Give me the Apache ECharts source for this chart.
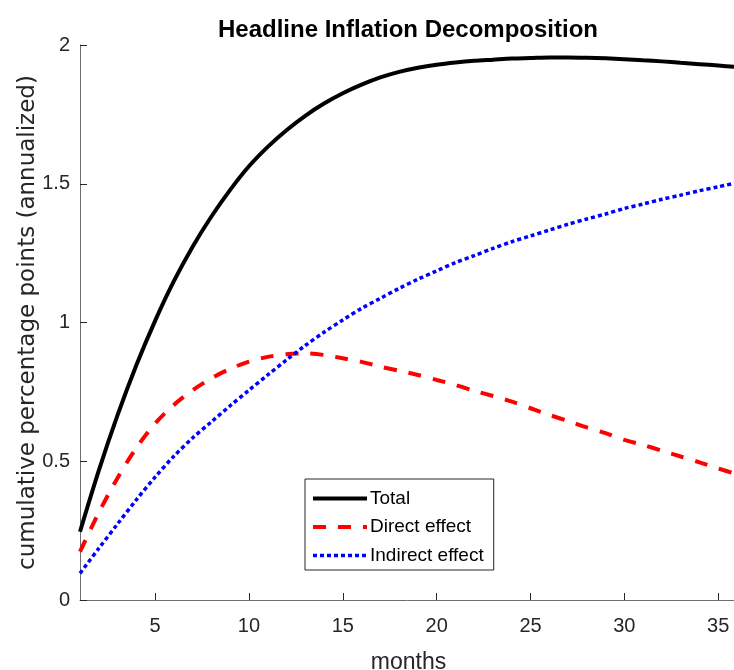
<!DOCTYPE html>
<html>
<head>
<meta charset="utf-8">
<script src="https://cdn.jsdelivr.net/npm/echarts@6/dist/echarts.min.js"></script>
<style>
  html, body { margin: 0; padding: 0; background: #fff; }
  #chart { width: 734px; height: 670px; }
</style>
</head>
<body>
<div id="chart"></div>
<script>
// Horizon in months after the shock
const months = [1, 2, 3, 4, 5, 6, 7, 8, 9, 10, 11, 12, 13, 14, 15, 16, 17, 18,
                19, 20, 21, 22, 23, 24, 25, 26, 27, 28, 29, 30, 31, 32, 33, 34, 35, 36];

// Cumulative contribution, percentage points (annualized)
const total = [0.246, 0.466, 0.666, 0.846, 1.006, 1.149, 1.273, 1.382, 1.478, 1.563,
               1.633, 1.693, 1.745, 1.789, 1.826, 1.857, 1.883, 1.903, 1.918, 1.929,
               1.937, 1.943, 1.947, 1.951, 1.953, 1.955, 1.955, 1.954, 1.952, 1.949,
               1.945, 1.941, 1.936, 1.931, 1.926, 1.921];

const direct = [0.174, 0.315, 0.440, 0.548, 0.636, 0.703, 0.756, 0.799, 0.833, 0.859,
                0.876, 0.886, 0.889, 0.883, 0.871, 0.858, 0.841, 0.826, 0.811, 0.793,
                0.775, 0.754, 0.735, 0.715, 0.691, 0.667, 0.645, 0.622, 0.601, 0.577,
                0.559, 0.538, 0.517, 0.496, 0.474, 0.453];

const indirect = [0.096, 0.186, 0.274, 0.361, 0.443, 0.518, 0.584, 0.642, 0.700, 0.756,
                  0.811, 0.865, 0.917, 0.965, 1.009, 1.051, 1.087, 1.123, 1.156, 1.186,
                  1.216, 1.241, 1.267, 1.291, 1.312, 1.333, 1.354, 1.373, 1.391, 1.411,
                  1.427, 1.444, 1.459, 1.475, 1.489, 1.504];

const xTicks = [5, 10, 15, 20, 25, 30, 35];
const yTickLabels = ['0', '0.5', '1', '1.5', '2'];

const pairs = (ys) => months.map((m, i) => [m, ys[i]]);

const axisColor = '#262626';
const font = '"Liberation Sans", Helvetica, Arial, sans-serif';

const chart = echarts.init(document.getElementById('chart'), null, { renderer: 'canvas' });

chart.setOption({
  backgroundColor: '#ffffff',
  animation: false,
  title: {
    text: 'Headline Inflation Decomposition',
    left: 403,
    textAlign: 'center',
    top: 13,
    textStyle: {
      fontFamily: '"Liberation Sans Narrow", "Liberation Sans", Arial, sans-serif',
      fontWeight: 'bold',
      fontSize: 24,
      color: '#000'
    }
  },
  grid: { left: 80, right: -3, top: 45, bottom: 70, containLabel: false, outerBoundsMode: 'none' },
  xAxis: {
    type: 'value',
    min: 1,
    max: 36,
    name: 'months',
    nameLocation: 'middle',
    nameGap: 51,
    nameMoveOverlap: false,
    nameTextStyle: { fontFamily: font, fontSize: 23, color: axisColor },
    axisLine: { show: true, lineStyle: { color: '#6e6e6e', width: 1 } },
    axisTick: { show: true, inside: true, length: 7, customValues: xTicks,
                lineStyle: { color: axisColor } },
    axisLabel: { customValues: xTicks, margin: 16, fontFamily: font, fontSize: 20, color: axisColor },
    splitLine: { show: false }
  },
  yAxis: {
    type: 'value',
    min: 0,
    max: 2,
    interval: 0.5,
    name: 'cumulative percentage points (annualized)',
    nameLocation: 'middle',
    nameRotate: 90,
    nameGap: 40,
    nameMoveOverlap: false,
    nameTextStyle: { fontFamily: '"DejaVu Sans", "Liberation Sans", sans-serif', fontSize: 23, color: axisColor },
    axisLine: { show: true, lineStyle: { color: '#6e6e6e', width: 1 } },
    axisTick: { show: true, inside: true, length: 7, lineStyle: { color: axisColor } },
    axisLabel: {
      margin: 10, fontFamily: font, fontSize: 20, color: axisColor,
      formatter: (v) => yTickLabels[Math.round(v / 0.5)]
    },
    splitLine: { show: false }
  },
  legend: {
    orient: 'vertical',
    left: 305,
    top: 479,
    padding: [10, 10, 5, 6],
    itemGap: 9.5,
    itemWidth: 54,
    itemHeight: 20,
    backgroundColor: '#ffffff',
    borderColor: '#262626',
    borderWidth: 1,
    borderRadius: 0,
    itemStyle: { opacity: 0 },
    lineStyle: { width: 'inherit', type: 'inherit', cap: 'butt' },
    textStyle: { fontFamily: font, fontSize: 19, color: '#000', padding: [0, 0, 0, -2] },
    data: ['Total', 'Direct effect', 'Indirect effect']
  },
  series: [
    {
      name: 'Total',
      type: 'line',
      data: pairs(total),
      symbol: 'none',
      smooth: 0.3,
      lineStyle: { color: '#000000', width: 4 },
      itemStyle: { color: '#000000' }
    },
    {
      name: 'Direct effect',
      type: 'line',
      data: pairs(direct),
      symbol: 'none',
      smooth: 0.3,
      lineStyle: { color: '#ff0000', width: 4, type: [13, 12] },
      itemStyle: { color: '#ff0000' }
    },
    {
      name: 'Indirect effect',
      type: 'line',
      data: pairs(indirect),
      symbol: 'none',
      smooth: 0.3,
      lineStyle: { color: '#0000ff', width: 3.5, type: [4, 3] },
      itemStyle: { color: '#0000ff' }
    }
  ]
});
</script>
</body>
</html>
